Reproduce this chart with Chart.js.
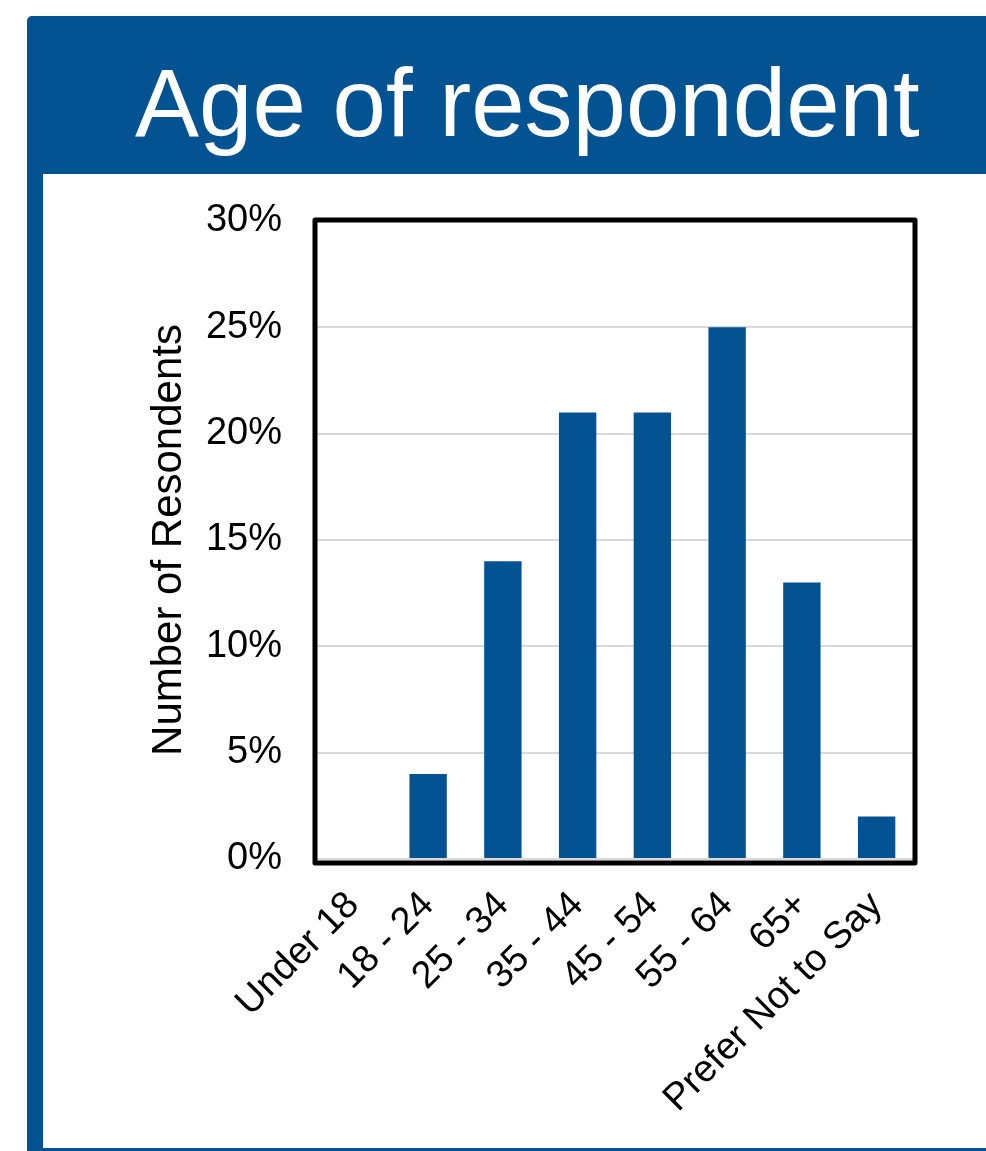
<!DOCTYPE html>
<html>
<head>
<meta charset="utf-8">
<script src="https://cdn.jsdelivr.net/npm/chart.js@4/dist/chart.umd.min.js"></script>
<style>
  html, body { margin: 0; padding: 0; }
  body { width: 986px; height: 1151px; position: relative; overflow: hidden; background: #ffffff; font-family: "Liberation Sans", Arial, sans-serif; }
  #header { position: absolute; left: 27px; top: 16px; width: 959px; height: 158px; background: #035292; border-top-left-radius: 5px; }
  #leftbar { position: absolute; left: 27px; top: 170px; width: 16px; height: 981px; background: #035292; }
  #bottombar { position: absolute; left: 27px; top: 1148px; width: 959px; height: 3px; background: #035292; }
  #panel { position: absolute; left: 43px; top: 174px; width: 922px; height: 974px; background: #ffffff; }
  #title { position: absolute; left: 135px; top: 55px; font-size: 96px; line-height: 96px; color: #ffffff; white-space: nowrap; font-family: "Liberation Sans", Arial, sans-serif; }
  #chartWrap { position: absolute; left: 43px; top: 174px; width: 922px; height: 974px; }
</style>
</head>
<body>
<div id="header"></div>
<div id="leftbar"></div>
<div id="bottombar"></div>
<div id="panel"></div>
<div id="title">Age of respondent</div>
<div id="chartWrap"><canvas id="c" width="922" height="974"></canvas></div>
<script>
const categories = ['Under 18', '18 - 24', '25 - 34', '35 - 44', '45 - 54', '55 - 64', '65+', 'Prefer Not to Say'];
const percentages = [0, 4, 14, 21, 21, 25, 13, 2];
const yAxisTitle = 'Number of Resondents';
const yMax = 30;
const yStep = 5;

const barBlue = '#035292';

const plotBorder = {
  id: 'plotBorder',
  afterDraw(chart) {
    const a = chart.chartArea;
    const ctx = chart.ctx;
    ctx.save();
    ctx.strokeStyle = '#000000';
    ctx.lineWidth = 5;
    ctx.lineJoin = 'round';
    ctx.strokeRect(a.left - 1, a.top - 1, (a.right + 1) - (a.left - 1), (a.bottom + 4) - (a.top - 1));
    ctx.restore();
  }
};

new Chart(document.getElementById('c'), {
  type: 'bar',
  data: {
    labels: categories,
    datasets: [{
      data: percentages,
      backgroundColor: barBlue,
      borderWidth: 0,
      barPercentage: 1,
      categoryPercentage: 0.5
    }]
  },
  options: {
    responsive: false,
    animation: false,
    devicePixelRatio: 1,
    layout: { padding: { left: 97, right: 51, top: 47, bottom: 0 } },
    plugins: { legend: { display: false }, tooltip: { enabled: false } },
    scales: {
      x: {
        grid: { display: false, drawTicks: false },
        border: { display: false },
        ticks: {
          color: '#000000',
          font: { family: '"Liberation Sans", Arial, sans-serif', size: 38 },
          minRotation: 45,
          maxRotation: 45,
          autoSkip: false,
          padding: 24
        },
        afterFit(scale) { scale.height = 289; }
      },
      y: {
        min: 0,
        max: yMax,
        grid: { color: '#d9d9d9', lineWidth: 2, drawTicks: false },
        border: { display: false },
        ticks: {
          stepSize: yStep,
          color: '#000000',
          padding: 34,
          font: { family: '"Liberation Sans", Arial, sans-serif', size: 38 },
          callback: (v) => v + '%'
        },
        title: {
          display: true,
          text: yAxisTitle,
          color: '#000000',
          font: { family: '"Liberation Sans", Arial, sans-serif', size: 42 },
          padding: { top: 4, bottom: 4 }
        },
        afterFit(scale) { scale.width = 176; scale.paddingTop = 0; scale.paddingBottom = 0; }
      }
    }
  },
  plugins: [plotBorder]
});
</script>
</body>
</html>
